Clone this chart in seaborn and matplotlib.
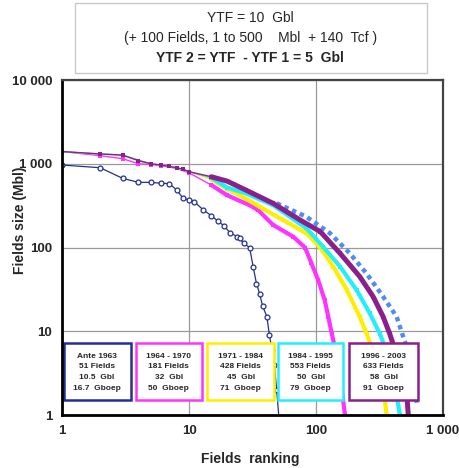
import numpy as np
import pandas as pd
import seaborn as sns
import matplotlib as mpl
from matplotlib import pyplot as plt
from matplotlib.patches import Rectangle

# Field size (Mbl) against field rank, one curve per discovery period
ante63_rank = [1, 2, 3, 4, 5, 6, 7, 8, 9, 10, 11, 13, 15, 17, 19, 21, 24, 25, 27, 30,
               32, 34, 36, 38, 41, 43, 45, 47, 49, 51]
ante63_size = [966, 897, 670, 600, 600, 585, 580, 486, 387, 369, 352, 280, 240, 205, 180,
               150, 135, 129, 112, 100, 59, 37, 28, 20, 15, 9, 6, 4, 2, 0.95]

p6470_rank = [1, 2, 3, 4, 5, 6, 8, 10, 15, 20, 30, 35, 46, 66, 82, 92, 104, 117, 125,
              133, 149, 160, 169, 181]
p6470_size = [1400, 1250, 1150, 1000, 980, 950, 880, 780, 557, 420, 320, 280, 186, 135,
              100, 65, 41, 23.6, 14.9, 9.4, 4.5, 2, 1.0, 0.6]

p7184_rank = [1, 2, 3, 4, 5, 6, 7, 8, 9, 10, 15, 20, 25, 36, 55, 84, 108, 137, 175, 221,
              250, 301, 340, 360, 400, 428]
p7184_size = [1393, 1306, 1270, 1090, 1000, 966, 930, 897, 860, 805, 650, 500, 424, 307,
              213, 148, 100, 59, 31, 14.9, 9.4, 4.5, 2, 1.0, 0.6, 0.4]

p8495_rank = [1, 2, 3, 5, 7, 10, 15, 20, 28, 46, 84, 114, 155, 209, 265, 318, 383, 420,
              458, 500, 553]
p8495_size = [1393, 1306, 1270, 1000, 930, 805, 680, 520, 444, 320, 170, 102, 59, 31,
              16.4, 9.4, 4.5, 2.2, 1.0, 0.8, 0.6]

p9603_rank = [1, 2, 3, 4, 5, 6, 7, 8, 9, 10, 15, 20, 28, 46, 75, 108, 155, 221, 282, 338,
              380, 458, 518, 533, 600, 633]
p9603_size = [1400, 1310, 1270, 1090, 1000, 966, 930, 897, 860, 805, 700, 620, 486, 337,
              213, 155, 85, 45, 25.9, 14.9, 9.4, 4, 1.8, 1.0, 0.7, 0.5]

# yet to find
ytf_rank = [49, 84, 129, 185, 250, 338, 432, 486, 567, 621]
ytf_size = [337, 233, 148, 85, 49, 25.9, 14.9, 8.6, 4.5, 1.4]

period_names = ['Ante 1963', '1964 - 1970', '1971 - 1984', '1984 - 1995', '1996 - 2003']
period_fields = ['51 Fields', '181 Fields', '428 Fields', '553 Fields', '633 Fields']
period_oil = ['10.5  Gbl', '32  Gbl', '45  Gbl', '50  Gbl', '58  Gbl']
period_boe = ['16.7  Gboep', '50  Gboep', '71  Gboep', '79  Gboep', '91  Gboep']

x_ticks = [1, 10, 100, 1000]
x_tick_labels = ['1', '10', '100', '1 000']
y_ticks = [1, 10, 100, 1000, 10000]
y_tick_labels = ['1', '10', '100', '1 000', '10 000']

title_lines = ['YTF = 10  Gbl', '(+ 100 Fields, 1 to 500    Mbl  + 140  Tcf )',
               'YTF 2 = YTF  - YTF 1 = 5  Gbl']

colors = ['#23308f', '#ff33ff', '#ffee00', '#22eeff', '#8b1f8b']
ytf_color = '#4f8cf0'

sns.set_style('white')
plt.rcParams['font.family'] = ['Liberation Sans', 'DejaVu Sans']

fig = plt.figure(figsize=(4.59, 4.68), dpi=100)
ax = fig.add_axes([0.1351, 0.1132, 0.830, 0.7158])

sns.lineplot(x=ante63_rank, y=ante63_size, ax=ax, color=colors[0], lw=0.9,
             marker='o', markersize=3.5, markerfacecolor='white',
             markeredgecolor=colors[0], markeredgewidth=0.9, zorder=6)
series = [(p6470_rank, p6470_size), (p7184_rank, p7184_size),
          (p8495_rank, p8495_size), (p9603_rank, p9603_size)]
widths = [3.0, 3.0, 3.0, 3.6]
for i, (r, s) in enumerate(series):
    # thin line with markers where fields are sparse, thick band where they pile up
    sns.lineplot(x=r, y=s, ax=ax, color=colors[i + 1], lw=1.0, marker='s',
                 markersize=3.5, markeredgewidth=0, zorder=2 + i)
    k = r.index(15)
    sns.lineplot(x=r[k:], y=s[k:], ax=ax, color=colors[i + 1], lw=widths[i],
                 zorder=2 + i)
ax.plot(ytf_rank, ytf_size, color=ytf_color, lw=3.2, ls=(0, (1, 0.9)),
        dash_capstyle='butt', zorder=1)

ax.set_xscale('log')
ax.set_yscale('log')
ax.set_xlim(1, 1000)
ax.set_ylim(1, 10000)
ax.set_xticks(x_ticks, labels=x_tick_labels)
ax.set_yticks(y_ticks, labels=y_tick_labels)
ax.xaxis.set_minor_locator(mpl.ticker.NullLocator())
ax.yaxis.set_minor_locator(mpl.ticker.NullLocator())
ax.tick_params(length=0, labelsize=9.5, pad=7)
for lab in ax.get_xticklabels() + ax.get_yticklabels():
    lab.set_fontweight('bold')
ax.grid(True, which='major', color='#9a9a9a', lw=0.9)

for side in ['left', 'bottom']:
    ax.spines[side].set_color('black')
    ax.spines[side].set_linewidth(2)
for side in ['top', 'right']:
    ax.spines[side].set_color('#444444')
    ax.spines[side].set_linewidth(1.6)
for sp in ax.spines.values():
    sp.set_zorder(10)

ax.set_xlabel('Fields  ranking', fontsize=10, fontweight='bold')
ax.set_ylabel('Fields size (Mbl)', fontsize=10, fontweight='bold')
ax.xaxis.set_label_coords(0.493, -0.11)
ax.yaxis.set_label_coords(-0.092, 0.582)

# period boxes along the bottom of the plot
box_left = [0.004, 0.194, 0.381, 0.568, 0.754]
box_right = [0.180, 0.367, 0.557, 0.738, 0.935]
for i in range(len(period_names)):
    w = box_right[i] - box_left[i]
    ax.add_patch(Rectangle((box_left[i], 0.045), w, 0.169, transform=ax.transAxes,
                           facecolor='white', edgecolor=colors[i], lw=1.8, zorder=8))
    txt = '\n'.join([period_names[i], period_fields[i], period_oil[i], period_boe[i]])
    ax.text(box_left[i] + w / 2, 0.128, txt, transform=ax.transAxes, ha='center',
            va='center', fontsize=6, fontweight='bold', linespacing=1.75, zorder=9)

# title box
fig.patches.append(Rectangle((0.1634, 0.844), 0.767, 0.1496, transform=fig.transFigure,
                             facecolor='white', edgecolor='#c8c8c8', lw=1))
fig.text(0.545, 0.9615, title_lines[0], ha='center', va='center', fontsize=10)
fig.text(0.545, 0.9188, title_lines[1], ha='center', va='center', fontsize=10)
fig.text(0.545, 0.876, title_lines[2], ha='center', va='center', fontsize=10,
         fontweight='bold')

fig.savefig('out.png', dpi=100)
